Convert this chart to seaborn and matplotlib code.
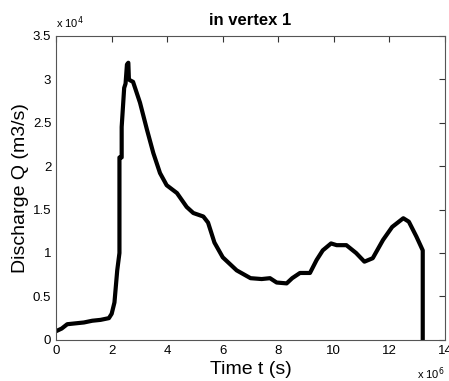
import matplotlib
matplotlib.use("Agg")
import matplotlib.pyplot as plt
import seaborn as sns
import pandas as pd

# time in units of 1e6 s, discharge in units of 1e4 m3/s
time_e6 = [0.0, 0.2, 0.4, 0.7, 1.0, 1.3, 1.6, 1.9, 2.0, 2.1, 2.2, 2.28, 2.28,
           2.36, 2.36, 2.45, 2.5, 2.55, 2.6, 2.62, 2.65, 2.77, 3.02, 3.27,
           3.5, 3.74, 3.98, 4.35, 4.7, 4.94, 5.3, 5.47, 5.7, 6.0, 6.5, 7.0,
           7.4, 7.7, 7.94, 8.3, 8.5, 8.78, 9.14, 9.38, 9.6, 9.9, 10.1, 10.45,
           10.8, 11.1, 11.4, 11.77, 12.1, 12.5, 12.7, 12.97, 13.1, 13.2, 13.2]
discharge_e4 = [0.1, 0.13, 0.18, 0.19, 0.2, 0.22, 0.23, 0.25, 0.3, 0.43, 0.8,
                1.0, 2.1, 2.1, 2.45, 2.9, 2.95, 3.17, 3.19, 3.0, 2.99, 2.97,
                2.73, 2.42, 2.15, 1.92, 1.78, 1.69, 1.53, 1.46, 1.42, 1.35,
                1.12, 0.95, 0.8, 0.71, 0.7, 0.71, 0.66, 0.65, 0.71, 0.77, 0.77,
                0.92, 1.03, 1.11, 1.09, 1.09, 1.0, 0.9, 0.94, 1.15, 1.3, 1.4,
                1.36, 1.19, 1.1, 1.03, 0.0]

df = pd.DataFrame({"t": time_e6, "Q": discharge_e4})

sns.set_style("white")
plt.rcParams["font.family"] = ["Liberation Sans", "DejaVu Sans"]
plt.rcParams["text.color"] = "black"
plt.rcParams["axes.labelcolor"] = "black"
fig = plt.figure(figsize=(4.49, 3.81), dpi=100)
ax = fig.add_axes([0.125, 0.108, 0.866, 0.798])
sns.lineplot(data=df, x="t", y="Q", sort=False, estimator=None,
             color="black", linewidth=3, ax=ax)

ax.set_xlim(0, 14)
ax.set_ylim(0, 3.5)
ax.set_xticks(range(0, 15, 2))
ax.set_yticks([0, 0.5, 1, 1.5, 2, 2.5, 3, 3.5])
ax.set_yticklabels(["0", "0.5", "1", "1.5", "2", "2.5", "3", "3.5"])
ax.tick_params(direction="in", length=4, width=0.8, labelsize=9.5,
               top=True, right=True, colors="#333333", labelcolor="black")
for s in ax.spines.values():
    s.set_color("#555555")
    s.set_linewidth(0.8)

ax.set_title("in vertex 1", fontsize=12, fontweight="bold", pad=8,
             color="black")
ax.set_xlabel("Time t (s)", fontsize=14, labelpad=3)
ax.set_ylabel("Discharge Q (m3/s)", fontsize=14, labelpad=3)
ax.text(0.0, 1.015, r"x 10$^4$", transform=ax.transAxes, fontsize=8,
        ha="left", va="bottom")
ax.text(1.0, -0.085, r"x 10$^6$", transform=ax.transAxes, fontsize=8,
        ha="right", va="top")

fig.savefig("out.png", dpi=100)
